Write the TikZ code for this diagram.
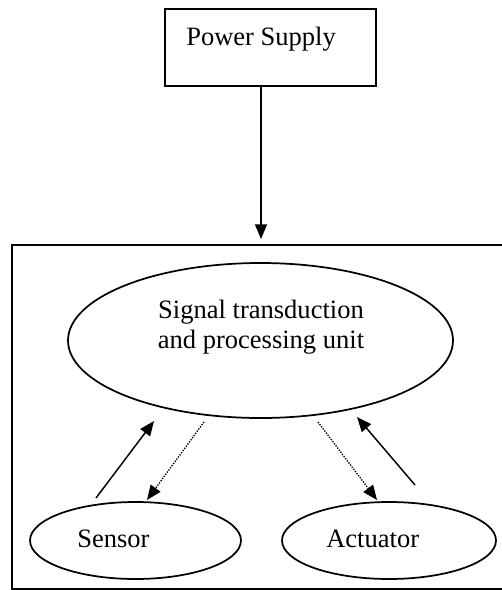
\documentclass[tikz,border=0pt]{standalone}
\usepackage{fontspec}
\setmainfont{Liberation Serif}
\usetikzlibrary{shapes.geometric,arrows.meta}
\tikzset{
  shapeline/.style={draw=black, line width=1.3pt},
  boxnode/.style={shapeline, rectangle, inner sep=0pt},
  ellnode/.style={shapeline, ellipse, inner sep=0pt},
  lbl/.style={inner sep=0pt, font=\fontsize{19.9}{22.5}\selectfont},
  solidarrow/.style={line width=1.1pt, -{Triangle[length=11pt,width=9pt]}},
  dotarrow/.style={line width=1pt, dash pattern=on 1pt off 1pt, -{Triangle[length=11pt,width=9pt]}}
}
\begin{document}
\begin{tikzpicture}[x=0.75pt,y=-0.75pt]
\useasboundingbox (0,0) rectangle (502,590);
\clip (0,0) rectangle (502,590);
% power supply box
\node[boxnode, minimum width={211*0.75pt}, minimum height={77*0.75pt}] (ps) at (270.5,47.5) {};
\node[lbl, anchor=base west] (pstext) at (186,45) {Power Supply};
% outer frame
\node[boxnode, minimum width={498*0.75pt}, minimum height={344*0.75pt}] (frame) at (261,417) {};
% ellipses
\node[ellnode, minimum width={385*0.75pt}, minimum height={155*0.75pt}] (unit) at (260.5,340.5) {};
\node[lbl, align=center, anchor=north] (unittext) at (261,300) {Signal transduction\\and processing unit};
\node[ellnode, minimum width={211*0.75pt}, minimum height={77*0.75pt}] (sensor) at (135.5,540.5) {};
\node[lbl, anchor=base west] (sensortext) at (77,547) {Sensor};
\node[ellnode, minimum width={214*0.75pt}, minimum height={77*0.75pt}] (actuator) at (389,540.5) {};
\node[lbl, anchor=base west] (actuatortext) at (326,547) {Actuator};
% connector ends
\coordinate (pin) at (261,239);
\coordinate (s1a) at (96,498);
\coordinate (s1b) at (154,421);
\coordinate (d1a) at (204,422);
\coordinate (d1b) at (147,500);
\coordinate (d2a) at (318,422);
\coordinate (d2b) at (377,500);
\coordinate (s2a) at (415,485);
\coordinate (s2b) at (357,417);
% connectors
\draw[solidarrow] (ps.south -| pin) -- (pin);
\draw[solidarrow] (s1a) -- (s1b);
\draw[dotarrow] (d1a) -- (d1b);
\draw[dotarrow] (d2a) -- (d2b);
\draw[solidarrow] (s2a) -- (s2b);
\end{tikzpicture}
\end{document}
